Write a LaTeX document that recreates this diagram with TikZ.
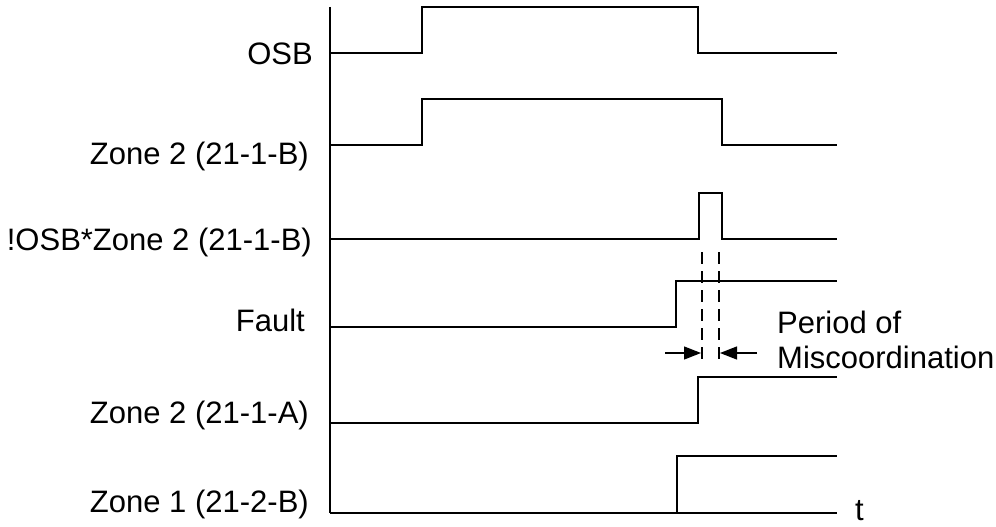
\documentclass[tikz,border=0pt]{standalone}
\usepackage{fontspec}
\setmainfont{Liberation Sans}
\usetikzlibrary{arrows.meta}
\begin{document}
\begin{tikzpicture}[x=1pt,y=-1pt,
  sig/.style={line width=1.7pt,line join=miter},
  lbl/.style={font=\fontsize{31}{36}\selectfont,inner sep=0pt,anchor=base east},
  txt/.style={font=\fontsize{31}{36}\selectfont,inner sep=0pt,anchor=base west},
  guide/.style={line width=1.3pt,dash pattern=on 12pt off 7pt},
  dimarrow/.style={line width=1.3pt,-{Triangle[length=17pt,width=13pt]}}]
\useasboundingbox (0,0) rectangle (996,527);
% axis
\coordinate (atop) at (330,7);
\coordinate (abot) at (330,513);
\draw[sig] (atop) -- (abot);
% signals
\draw[sig] (330,53) -- (422,53) -- (422,7) -- (698,7) -- (698,53) -- (837,53);
\draw[sig] (330,145) -- (422,145) -- (422,99) -- (722,99) -- (722,145) -- (837,145);
\draw[sig] (330,239) -- (699,239) -- (699,193) -- (722,193) -- (722,239) -- (837,239);
\draw[sig] (330,327) -- (676,327) -- (676,281) -- (837,281);
\draw[sig] (330,423) -- (698,423) -- (698,377) -- (837,377);
\draw[sig] (abot) -- (677,513) -- (677,456) -- (837,456);
\draw[sig] (677,513) -- (837,513);
% labels
\node[lbl] (osb) at (313,64) {OSB};
\node[lbl] (z2b) at (309,164) {Zone 2 (21-1-B)};
\node[lbl] (nosb) at (312,250) {!OSB*Zone 2 (21-1-B)};
\node[lbl] (fault) at (305,331) {Fault};
\node[lbl] (z2a) at (309,423) {Zone 2 (21-1-A)};
\node[lbl] (z1b) at (309,512) {Zone 1 (21-2-B)};
\node[txt] (t) at (855,520) {t};
\node[txt] (per1) at (777,333) {Period of};
\node[txt] (per2) at (777,368) {Miscoordination};
% dashed guides
\coordinate (g1t) at (702,252);
\coordinate (g1b) at (702,363);
\coordinate (g2t) at (719,252);
\coordinate (g2b) at (719,363);
\draw[guide] (g1t) -- (g1b);
\draw[guide] (g2t) -- (g2b);
% arrows
\coordinate (a1s) at (665,353);
\coordinate (a1e) at (701,353);
\coordinate (a2s) at (757,353);
\coordinate (a2e) at (720,353);
\draw[dimarrow] (a1s) -- (a1e);
\draw[dimarrow] (a2s) -- (a2e);
\end{tikzpicture}
\end{document}
